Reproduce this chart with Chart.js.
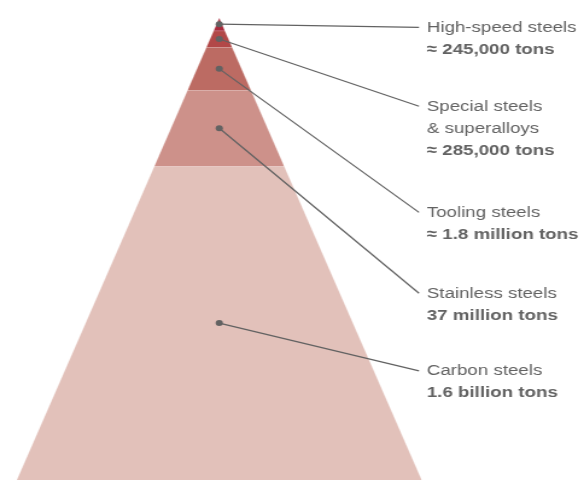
<!DOCTYPE html>
<html>
<head>
<meta charset="utf-8">
<script src="https://cdn.jsdelivr.net/npm/chart.js@4"></script>
<style>
  html, body { margin: 0; padding: 0; background: #fff; }
</style>
</head>
<body>
<!-- drawn on a square bitmap and shown stretched to the page width -->
<canvas id="steelPyramid" width="484" height="484" style="width:584px;height:484px"></canvas>
<script>
// layers, from the tip of the pyramid down to the base
const steelNames = [
    ['High-speed steels'],
    ['Special steels', '& superalloys'],
    ['Tooling steels'],
    ['Stainless steels'],
    ['Carbon steels']
];
const tonnage = ['≈ 245,000 tons', '≈ 285,000 tons', '≈ 1.8 million tons', '37 million tons', '1.6 billion tons'];
// top edge of each layer, as a share of the pyramid height (base = 0, tip = 1)
const layerTop = [1, 0.972, 0.936, 0.843, 0.679];
const layerColors = ['#a92a3c', '#b24848', '#bc6b63', '#cd918a', '#e2c1ba'];

// where each callout line ends (height units) and how far right it reaches
const calloutY = [0.979, 0.8085, 0.579, 0.404, 0.236];
const calloutX = 0.986;

const textColor = '#626262';
const lineHeight = 22;

function halfWidth(h) {
    return 1 - h;
}

const layerSets = layerTop.map((top, i) => {
    const bottom = i < layerTop.length - 1 ? layerTop[i + 1] : 0;
    return {
        data: [
            { x: -halfWidth(bottom), y: bottom },
            { x: -halfWidth(top), y: top },
            { x: halfWidth(top), y: top },
            { x: halfWidth(bottom), y: bottom }
        ],
        showLine: true,
        fill: { value: bottom },
        backgroundColor: layerColors[i],
        borderColor: 'rgba(255, 255, 255, 0.35)',
        borderWidth: 1,
        pointRadius: 0,
        tension: 0
    };
});

const calloutSets = layerTop.map((top, i) => {
    const bottom = i < layerTop.length - 1 ? layerTop[i + 1] : 0;
    return {
        data: [
            { x: 0, y: (top + bottom) / 2 },
            { x: calloutX, y: calloutY[i] }
        ],
        showLine: true,
        fill: false,
        borderColor: textColor,
        borderWidth: 1.25,
        pointRadius: [3, 0],
        pointBackgroundColor: textColor,
        pointBorderWidth: 0,
        tension: 0
    };
});

const calloutLabels = {
    id: 'calloutLabels',
    afterDatasetsDraw(chart) {
        const { ctx, scales: { x, y } } = chart;
        ctx.save();
        ctx.fillStyle = textColor;
        ctx.textAlign = 'left';
        ctx.textBaseline = 'middle';
        const left = x.getPixelForValue(calloutX) + 6.5;
        steelNames.forEach((names, i) => {
            let top = y.getPixelForValue(calloutY[i]);
            ctx.font = '15.5px "Liberation Sans", Arial, sans-serif';
            names.forEach(line => {
                ctx.fillText(line, left, top);
                top += lineHeight;
            });
            ctx.font = 'bold 15.5px "Liberation Sans", Arial, sans-serif';
            ctx.fillText(tonnage[i], left, top);
        });
        ctx.restore();
    }
};

new Chart(document.getElementById('steelPyramid'), {
    type: 'scatter',
    data: { datasets: calloutSets.concat(layerSets) },
    options: {
        responsive: false,
        animation: false,
        events: [],
        layout: { padding: 0 },
        scales: {
            x: { type: 'linear', display: false, min: -1.0586, max: 1.7768 },
            y: { type: 'linear', display: false, min: 0, max: 1.0298 }
        },
        plugins: {
            legend: { display: false },
            tooltip: { enabled: false }
        }
    },
    plugins: [calloutLabels]
});
</script>
</body>
</html>
